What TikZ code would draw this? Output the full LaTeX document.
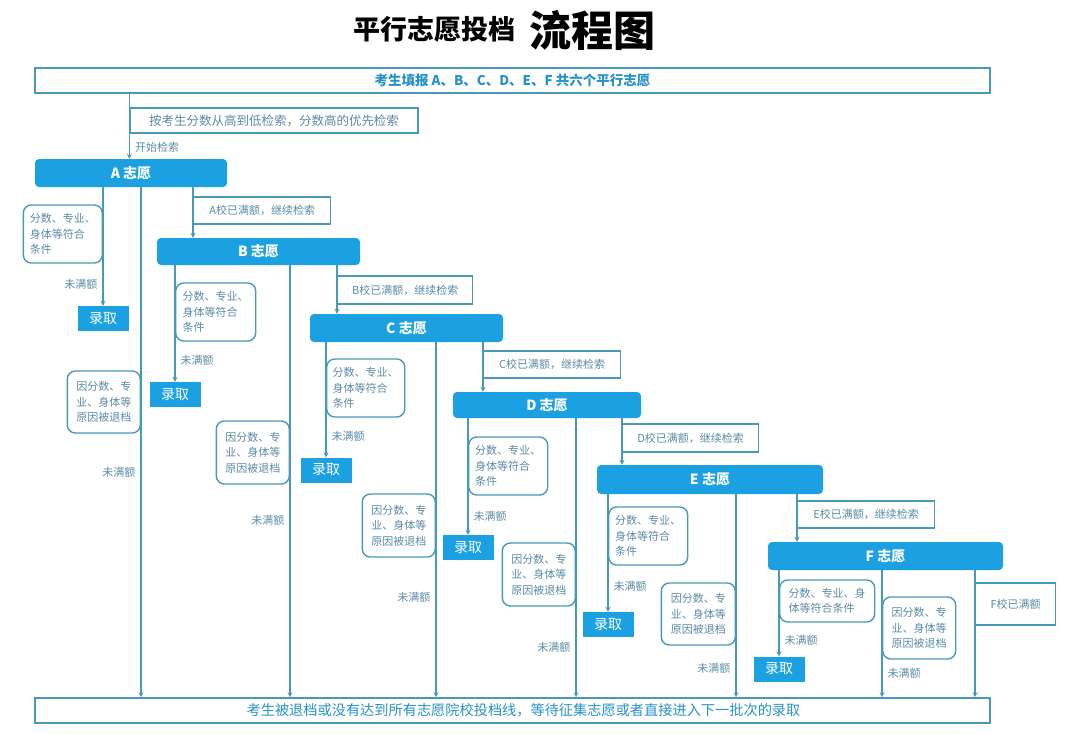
\documentclass[tikz,border=0pt]{standalone}
\usepackage{fontspec}
\setmainfont{Noto Sans CJK SC}
\usetikzlibrary{arrows.meta}

\definecolor{barblue}{RGB}{27,160,226}
\definecolor{linecol}{RGB}{72,152,186}
\definecolor{txtcol}{RGB}{88,138,165}
\definecolor{headblue}{RGB}{38,146,200}
\newcommand{\sz}[1]{\fontsize{#1}{#1}\selectfont}

\begin{document}
\begin{tikzpicture}[x=1pt, y=-1pt, >={Stealth[length=5pt,width=5pt]},
    bar/.style={fill=barblue, rounded corners=4pt, text=white, font=\bfseries\sz{14}, inner sep=0pt},
    admit/.style={fill=barblue, text=white, font=\sz{14}, minimum width=51pt, minimum height=25pt, inner sep=0pt},
    note/.style={draw=linecol, line width=1.4pt, rounded corners=8pt, text=txtcol, align=left, font=\fontsize{11}{15.5}\selectfont, inner sep=0pt},
    full/.style={draw=linecol, line width=1.4pt, text=txtcol, font=\sz{11}, inner sep=0pt},
    frame/.style={draw=linecol, line width=1.6pt, text=headblue, inner sep=0pt},
    lbl/.style={text=txtcol, font=\sz{11}, inner sep=5pt}]
                \useasboundingbox (0,0) rectangle (1080,734);

                \node[font=\bfseries\sz{27}] (title) at (434.5,29) {平行志愿投档};
                \node[font=\bfseries\sz{42}, anchor=west] (title2) at (526,30) {流程图};

                \node[frame, font=\bfseries\sz{13.5}, minimum width=955pt, minimum height=25pt] (top) at (512.5,80.5) {考生填报 A、B、C、D、E、F 共六个平行志愿};
                \node[full, font=\sz{12.5}, minimum width=288pt, minimum height=25pt] (info) at (274,120.5) {按考生分数从高到低检索，分数高的优先检索};
                \node[frame, font=\sz{14.2}, minimum width=955pt, minimum height=25pt] (bot) at (512.5,710.5) {\hspace{22pt}考生被退档或没有达到所有志愿院校投档线，等待征集志愿或者直接进入下一批次的录取};

                \node[bar, minimum width=192pt, minimum height=28pt] (A) at (131,173) {A 志愿};
                \node[bar, minimum width=203pt, minimum height=27pt] (B) at (258.5,251.5) {B 志愿};
                \node[bar, minimum width=193pt, minimum height=28pt] (C) at (406.5,328) {C 志愿};
                \node[bar, minimum width=188pt, minimum height=26pt] (D) at (547,405) {D 志愿};
                \node[bar, minimum width=226pt, minimum height=29pt] (E) at (710,479.5) {E 志愿};
                \node[bar, minimum width=235pt, minimum height=28pt] (F) at (885.5,556) {F 志愿};

                \node[note, anchor=east, minimum width=79pt, minimum height=58pt] (Aok) at (103,234) {分数、专业、\\身体等符合\\条件};
                \node[note, anchor=west, minimum width=80pt, minimum height=58pt] (Bok) at (175,312) {分数、专业、\\身体等符合\\条件};
                \node[note, anchor=west, minimum width=78pt, minimum height=58pt] (Cok) at (326,388) {分数、专业、\\身体等符合\\条件};
                \node[note, anchor=west, minimum width=79pt, minimum height=58pt] (Dok) at (468,466) {分数、专业、\\身体等符合\\条件};
                \node[note, anchor=west, minimum width=79pt, minimum height=58pt] (Eok) at (608,536) {分数、专业、\\身体等符合\\条件};
                \node[note, anchor=west, minimum width=95pt, minimum height=42pt] (Fok) at (779,601) {分数、专业、身\\体等符合条件};

                \node[admit] (Aadm) at (103,318.5) {录取};
                \node[admit] (Badm) at (175,394.5) {录取};
                \node[admit] (Cadm) at (326,470) {录取};
                \node[admit] (Dadm) at (468,547.5) {录取};
                \node[admit] (Eadm) at (608,624.5) {录取};
                \node[admit] (Fadm) at (779,669) {录取};

                \node[note, anchor=east, minimum width=73pt, minimum height=62pt] (Aout) at (141,402) {因分数、专\\业、身体等\\原因被退档};
                \node[note, anchor=east, minimum width=73pt, minimum height=63pt] (Bout) at (290,452.5) {因分数、专\\业、身体等\\原因被退档};
                \node[note, anchor=east, minimum width=73pt, minimum height=63pt] (Cout) at (436,525.5) {因分数、专\\业、身体等\\原因被退档};
                \node[note, anchor=east, minimum width=73pt, minimum height=63pt] (Dout) at (576,574.5) {因分数、专\\业、身体等\\原因被退档};
                \node[note, anchor=east, minimum width=74pt, minimum height=62pt] (Eout) at (736,614) {因分数、专\\业、身体等\\原因被退档};
                \node[note, anchor=west, minimum width=73pt, minimum height=62pt] (Fout) at (882,628) {因分数、专\\业、身体等\\原因被退档};

                \node[full, anchor=west, minimum width=137pt, minimum height=27pt] (Afull) at (193,210.5) {A校已满额，继续检索};
                \node[full, anchor=west, minimum width=135pt, minimum height=28pt] (Bfull) at (337,290) {B校已满额，继续检索};
                \node[full, anchor=west, minimum width=137pt, minimum height=27pt] (Cfull) at (483,364.5) {C校已满额，继续检索};
                \node[full, anchor=west, minimum width=136pt, minimum height=28pt] (Dfull) at (622,438) {D校已满额，继续检索};
                \node[full, anchor=west, minimum width=137pt, minimum height=27pt] (Efull) at (797,514.5) {E校已满额，继续检索};
                \node[full, anchor=west, minimum width=80pt, minimum height=42pt] (Ffull) at (975,604) {F校已满额};

                \draw[linecol, line width=1.4pt, every edge/.append style={->}]
                    (top.south -| info.west) edge node[lbl, right, pos=0.83] {开始检索} (info.west |- A.north)

                    (Aadm |- A.south) edge node[lbl, left, pos=0.82] {未满额} (Aadm)
                    (Badm |- B.south) edge node[lbl, right, pos=0.82] {未满额} (Badm)
                    (Cadm |- C.south) edge node[lbl, right, pos=0.82] {未满额} (Cadm)
                    (Dadm |- D.south) edge node[lbl, right, pos=0.84] {未满额} (Dadm)
                    (Eadm |- E.south) edge node[lbl, right, pos=0.78] {未满额} (Eadm)
                    (Fadm |- F.south) edge node[lbl, right, pos=0.82] {未满额} (Fadm)

                    (Aout.east |- A.south) edge node[lbl, left, pos=0.56] {未满额} (Aout.east |- bot.north)
                    (Bout.east |- B.south) edge node[lbl, left, pos=0.59] {未满额} (Bout.east |- bot.north)
                    (Cout.east |- C.south) edge node[lbl, left, pos=0.72] {未满额} (Cout.east |- bot.north)
                    (Dout.east |- D.south) edge node[lbl, left, pos=0.82] {未满额} (Dout.east |- bot.north)
                    (Eout.east |- E.south) edge node[lbl, left, pos=0.86] {未满额} (Eout.east |- bot.north)
                    (Fout.west |- F.south) edge node[lbl, right, pos=0.81] {未满额} (Fout.west |- bot.north)

                    (Afull.west |- A.south) edge (Afull.west |- B.north)
                    (Bfull.west |- B.south) edge (Bfull.west |- C.north)
                    (Cfull.west |- C.south) edge (Cfull.west |- D.north)
                    (Dfull.west |- D.south) edge (Dfull.west |- E.north)
                    (Efull.west |- E.south) edge (Efull.west |- F.north)
                    (Ffull.west |- F.south) edge (Ffull.west |- bot.north)
                    ;
\end{tikzpicture}
\end{document}
